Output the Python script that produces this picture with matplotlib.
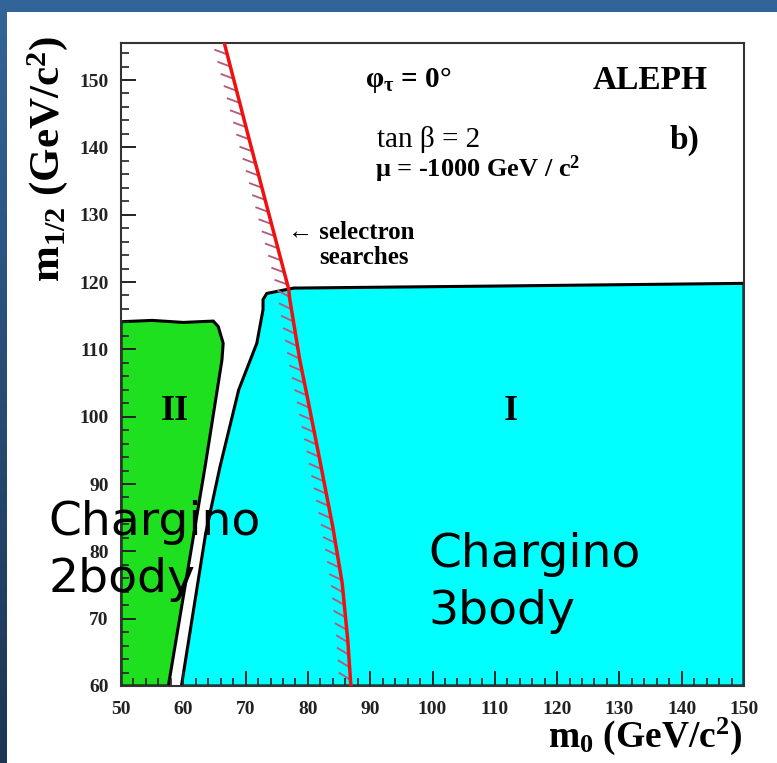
import numpy as np
import matplotlib
matplotlib.use("Agg")
import matplotlib.pyplot as plt
from matplotlib import patheffects
from matplotlib.patches import Polygon, Rectangle
from matplotlib.ticker import MultipleLocator
from matplotlib.colors import LinearSegmentedColormap

plt.rcParams['mathtext.default'] = 'regular'
serif = ['Liberation Serif', 'DejaVu Serif']

# region II (chargino 2-body), outline
region2_m0 = [50.0, 50.0, 55.0, 60.0, 64.8, 65.6, 66.4, 66.2, 63.5, 57.6]
region2_m12 = [60.0, 114.1, 114.3, 114.0, 114.2, 113.4, 110.9, 108.4, 92.6, 60.0]

# region I (chargino 3-body)
region1_m0 = [59.7, 63.6, 65.9, 68.9, 71.8, 72.8, 72.8, 73.4, 77.7, 110.0, 150.0, 150.0]
region1_m12 = [60.0, 82.7, 92.6, 104.0, 110.9, 115.9, 117.4, 118.3, 119.1, 119.4, 119.8, 60.0]

# selectron search limit, from bottom to top
sel_m0 = [86.9, 86.4, 85.5, 84.0, 81.9, 80.0, 78.7, 77.1, 76.9, 70.6, 66.3]
sel_m12 = [60.0, 66.8, 75.3, 83.6, 93.6, 102.5, 108.4, 117.4, 119.0, 141.1, 156.5]

x_ticks = list(range(50, 151, 10))
y_ticks = list(range(60, 151, 10))

fig = plt.figure(figsize=(7.77, 7.63), dpi=100)

# slide background
bg = fig.add_axes([0, 0, 1, 1], zorder=-10)
grad = np.linspace(0, 1, 256).reshape(-1, 1)
cmap_bg = LinearSegmentedColormap.from_list("bg", ["#33659a", "#1c3552"])
bg.imshow(grad, aspect='auto', cmap=cmap_bg, extent=[0, 1, 0, 1], origin='upper')
bg.add_patch(Rectangle((7 / 777, 0), 1, 1 - 12 / 763, transform=bg.transAxes,
                       facecolor='white', edgecolor='none'))
bg.set_xlim(0, 1)
bg.set_ylim(0, 1)
bg.axis('off')

ax = fig.add_axes([121 / 777, 1 - 686 / 763, 623 / 777, 643 / 763])

ax.add_patch(Polygon(np.column_stack([region2_m0, region2_m12]), closed=True,
                     facecolor='#1fe01f', edgecolor='black', linewidth=2.2))
ax.add_patch(Polygon(np.column_stack([region1_m0, region1_m12]), closed=True,
                     facecolor='#00ffff', edgecolor='black', linewidth=2.2))

# hatched side points to the excluded (left) side
ax.plot(sel_m0, sel_m12, color='#f01010', linewidth=2.5, solid_capstyle='butt',
        path_effects=[patheffects.TickedStroke(spacing=9, length=1.1, angle=55,
                                               linewidth=1.3, foreground='#b0587e'),
                      patheffects.Normal()], zorder=3)

ax.set_xlim(50, 150)
ax.set_ylim(60, 155.5)
ax.xaxis.set_major_locator(MultipleLocator(10))
ax.xaxis.set_minor_locator(MultipleLocator(2))
ax.yaxis.set_major_locator(MultipleLocator(10))
ax.yaxis.set_minor_locator(MultipleLocator(2))
ax.set_xticks(x_ticks)
ax.set_yticks(y_ticks)
ax.tick_params(which='both', direction='in', top=False, right=False, colors='#222222')
ax.tick_params(which='major', length=11, width=1.4)
ax.tick_params(which='minor', length=6, width=1.2)
ax.tick_params(axis='x', pad=10.5)
ax.tick_params(axis='y', pad=9)
for lab in ax.get_xticklabels() + ax.get_yticklabels():
    lab.set_fontfamily(serif)
    lab.set_fontsize(14)
    lab.set_fontweight('bold')
for sp in ax.spines.values():
    sp.set_linewidth(1.5)
    sp.set_color('#333333')

ax.set_xlabel('m$_0$ (GeV/c$^2$)', family=serif, fontsize=27, fontweight='bold')
ax.xaxis.set_label_coords(0.997, -0.079)
ax.xaxis.label.set_ha('right')
ax.xaxis.label.set_va('center')
ax.set_ylabel('m$_{1/2}$ (GeV/c$^2$)', family=serif, fontsize=31, fontweight='bold')
ax.yaxis.set_label_coords(-0.118, 0.82)
ax.yaxis.label.set_va('center')

ax.text(144.1, 150.0, 'ALEPH', family=serif, fontsize=24, fontweight='bold',
        ha='right', va='center')
ax.text(89.2, 150.0, 'φ$_τ$ = 0°', family=serif, fontsize=21, fontweight='bold',
        ha='left', va='center')
ax.text(91.1, 141.1, 'tan β = 2', family=serif, fontsize=21,
        ha='left', va='center')
ax.text(142.9, 141.1, 'b)', family=serif, fontsize=24, fontweight='bold',
        ha='right', va='center')
ax.text(90.8, 136.7, 'μ = -1000 GeV / c$^2$', family=serif, fontsize=19,
        fontweight='bold', ha='left', va='center')
ax.text(76.8, 127.3, '← selectron', family=serif, fontsize=18, fontweight='bold',
        ha='left', va='center')
ax.text(81.9, 123.7, 'searches', family=serif, fontsize=18, fontweight='bold',
        ha='left', va='center')

ax.text(58.7, 100.7, 'II', family=serif, fontsize=26, fontweight='bold',
        ha='center', va='center')
ax.text(112.6, 100.7, 'I', family=serif, fontsize=26, fontweight='bold',
        ha='center', va='center')

ax.text(38.3, 82.4, 'Chargino', fontsize=34, ha='left', va='baseline', clip_on=False)
ax.text(38.3, 73.9, '2body', fontsize=34, ha='left', va='baseline', clip_on=False)
ax.text(99.3, 77.7, 'Chargino', fontsize=34, ha='left', va='baseline')
ax.text(99.3, 69.2, '3body', fontsize=34, ha='left', va='baseline')

fig.savefig('out.png', dpi=100)
